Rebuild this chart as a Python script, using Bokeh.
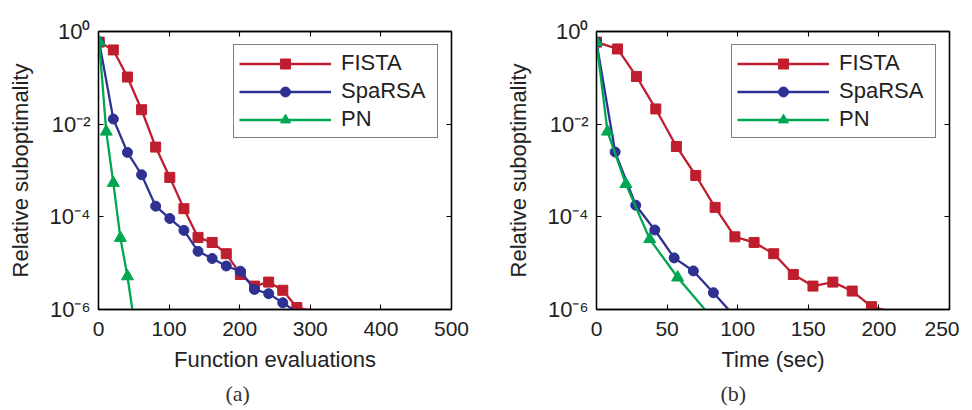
import numpy as np
from bokeh.plotting import figure
from bokeh.models import (LinearAxis, LogAxis, FixedTicker, Legend, LegendItem,
                          Title, Range1d)
from bokeh.layouts import row
from bokeh.embed import file_html
from bokeh.resources import INLINE

# ---------------- data: panel (a) ----------------
evals_fista = [1, 21, 41, 61, 81, 101, 121, 141, 161, 181, 201, 221, 241, 261, 281, 301]
subopt_fista_a = [0.59, 0.40, 0.104, 0.0205, 3.2e-3, 7.1e-4, 1.5e-4, 3.6e-5, 2.8e-5,
                  1.6e-5, 5.7e-6, 3.2e-6, 3.9e-6, 2.6e-6, 1.1e-6, 9.4e-7]
evals_sparsa = [1, 21, 41, 61, 81, 101, 121, 141, 161, 181, 201, 221, 241, 261, 281]
subopt_sparsa_a = [0.59, 0.0129, 2.46e-3, 8.1e-4, 1.7e-4, 9.2e-5, 5.1e-5, 1.8e-5,
                   1.26e-5, 8.7e-6, 6.7e-6, 2.7e-6, 2.2e-6, 1.4e-6, 8.7e-7]
evals_pn = [1, 11, 21, 31, 41, 51]
subopt_pn_a = [0.59, 6.9e-3, 5.4e-4, 3.5e-5, 5.2e-6, 4.9e-7]

# ---------------- data: panel (b) ----------------
time_fista = [0, 14.9, 28.3, 42, 56.6, 70.3, 84, 98, 111.6, 125.5, 139.4, 153.3,
              167.4, 181.1, 194.8, 208.5]
subopt_fista_b = [0.59, 0.42, 0.107, 0.0213, 3.3e-3, 7.8e-4, 1.6e-4, 3.7e-5, 2.8e-5,
                  1.6e-5, 5.7e-6, 3.2e-6, 3.9e-6, 2.5e-6, 1.15e-6, 9e-7]
time_sparsa = [0, 13.2, 27.8, 41.3, 55, 68.6, 82.8, 97]
subopt_sparsa_b = [0.59, 2.5e-3, 1.78e-4, 5.2e-5, 1.3e-5, 6.8e-6, 2.3e-6, 7.6e-7]
time_pn = [0, 7.8, 20.8, 37.7, 57.5, 77.5]
subopt_pn_b = [0.59, 6.9e-3, 5.1e-4, 3.3e-5, 4.9e-6, 9.4e-7]

series_names = ["FISTA", "SpaRSA", "PN"]
y_ticks = [1e-6, 1e-4, 1e-2, 1e0]
y_tick_labels = {1e-6: "10⁻⁶", 1e-4: "10⁻⁴", 1e-2: "10⁻²", 1e0: "10⁰"}
x_ticks_a = [0, 100, 200, 300, 400, 500]
x_ticks_b = [0, 50, 100, 150, 200, 250]

COLORS = ["#BE1E2D", "#2E3192", "#00A651"]
MARKERS = ["square", "circle", "triangle"]
MSIZE = [10, 10, 12]
FONT = "Liberation Sans"


def style_axis(ax, size="21px"):
    ax.axis_line_color = "black"
    ax.axis_line_width = 1.3
    ax.major_tick_line_color = "black"
    ax.major_tick_line_width = 1.1
    ax.major_tick_in = 5
    ax.major_tick_out = 0
    ax.minor_tick_line_color = None
    ax.major_label_text_font = FONT
    ax.major_label_text_color = "#222222"
    ax.major_label_text_font_size = size


def make_panel(xmax, xticks, xlabel, caption, cap_offset, data, min_right):
    p = figure(frame_width=353, frame_height=278, y_axis_type="log",
               x_range=Range1d(0, xmax), y_range=Range1d(1e-6, 1),
               output_backend="svg", toolbar_location=None,
               min_border_left=98, min_border_right=min_right,
               min_border_top=31, min_border_bottom=90,
               background_fill_color="white", border_fill_color="white")
    p.outline_line_color = "black"
    p.outline_line_width = 1.3
    p.grid.visible = False

    p.xaxis.ticker = FixedTicker(ticks=xticks)
    p.yaxis.ticker = FixedTicker(ticks=y_ticks)
    p.yaxis.major_label_overrides = y_tick_labels
    for ax in p.xaxis:
        style_axis(ax, "21px")
    for ax in p.yaxis:
        style_axis(ax, "22px")
    p.xaxis.major_label_standoff = 12
    p.yaxis.major_label_standoff = 8
    p.xaxis.axis_label = xlabel
    p.yaxis.axis_label = "Relative suboptimality"
    for ax in p.xaxis + p.yaxis:
        ax.axis_label_text_font = FONT
        ax.axis_label_text_font_size = "22px"
        ax.axis_label_text_font_style = "normal"
        ax.axis_label_text_color = "#222222"
    p.xaxis.axis_label_standoff = 8
    p.yaxis.axis_label_standoff = 14

    top = LinearAxis(ticker=FixedTicker(ticks=xticks))
    style_axis(top)
    top.major_label_overrides = {t: "" for t in xticks}
    top.major_label_standoff = 0
    p.add_layout(top, "above")
    right = LogAxis(ticker=FixedTicker(ticks=y_ticks))
    style_axis(right)
    right.major_label_overrides = {t: "" for t in y_ticks}
    right.major_label_standoff = 0
    p.add_layout(right, "right")

    items = []
    for (xs, ys), name, col, mk, ms in zip(data, series_names, COLORS, MARKERS, MSIZE):
        xs = np.asarray(xs, dtype=float)
        ys = np.asarray(ys, dtype=float)
        r1 = p.line(xs, ys, line_color=col, line_width=2.3)
        vis = ys >= 1e-6
        r2 = p.scatter(xs[vis], ys[vis], marker=mk, size=ms, fill_color=col,
                       line_color=col, line_width=1)
        items.append(LegendItem(label=name, renderers=[r1, r2]))

    leg = Legend(items=items, location="top_right")
    leg.margin = 13
    leg.padding = 5
    leg.spacing = 2
    leg.glyph_width = 92
    leg.glyph_height = 25
    leg.label_standoff = 10
    leg.label_width = 91
    leg.label_text_font = FONT
    leg.label_text_font_size = "22px"
    leg.label_text_color = "#222222"
    leg.border_line_color = "black"
    leg.border_line_width = 1.3
    leg.background_fill_color = "white"
    leg.background_fill_alpha = 1.0
    p.add_layout(leg)

    t = Title(text=caption, text_font="Liberation Serif", text_font_size="22px",
              text_font_style="normal", text_color="#333333", align="left",
              offset=cap_offset, standoff=8)
    p.add_layout(t, "below")
    return p


p1 = make_panel(500, x_ticks_a, "Function evaluations", "(a)", 127,
                [(evals_fista, subopt_fista_a), (evals_sparsa, subopt_sparsa_a),
                 (evals_pn, subopt_pn_a)], 47)
p2 = make_panel(250, x_ticks_b, "Time (sec)", "(b)", 124,
                [(time_fista, subopt_fista_b), (time_sparsa, subopt_sparsa_b),
                 (time_pn, subopt_pn_b)], 10)

layout = row(p1, p2)
open("out.html", "w").write(file_html(layout, INLINE))
